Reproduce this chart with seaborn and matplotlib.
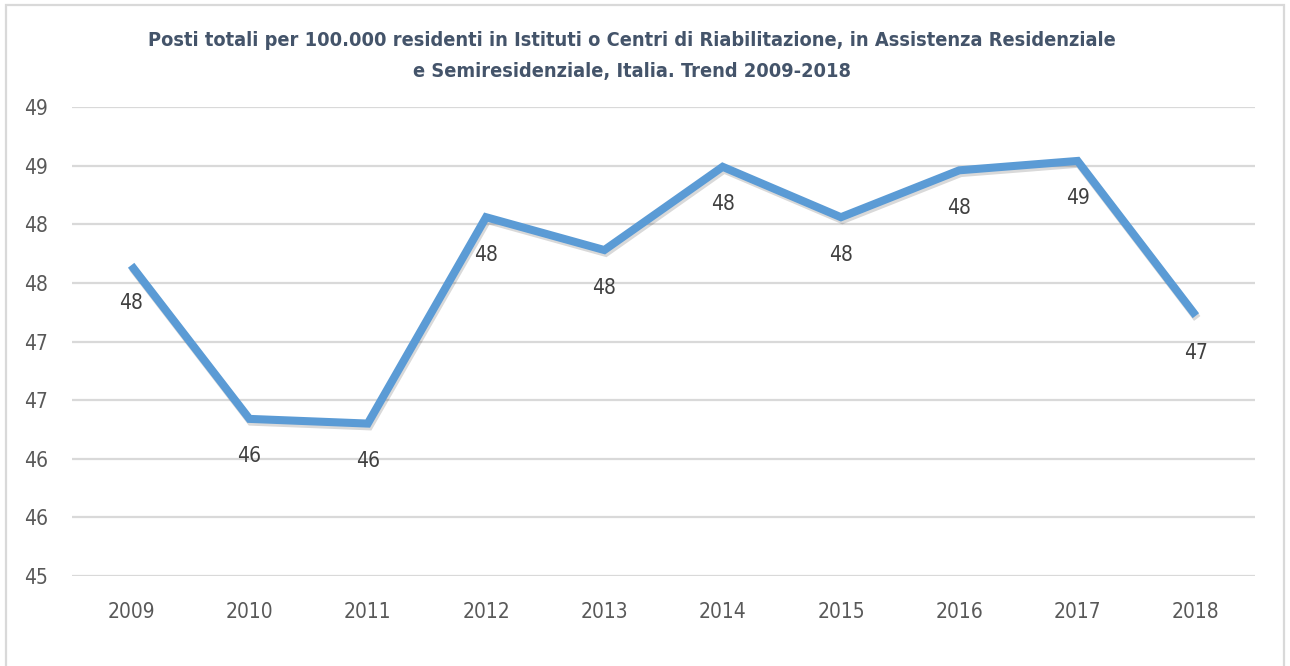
import math
import matplotlib
matplotlib.use("Agg")
import matplotlib.pyplot as plt
import matplotlib.patheffects as pe
from matplotlib.patches import Rectangle
import seaborn as sns
import pandas as pd

# ======================
# DATA
# ======================
years = [2009, 2010, 2011, 2012, 2013, 2014, 2015, 2016, 2017, 2018]
posti = [47.65, 46.34, 46.30, 48.06, 47.78, 48.49, 48.06, 48.46, 48.54, 47.22]
y_ticks = [45.0, 45.5, 46.0, 46.5, 47.0, 47.5, 48.0, 48.5, 49.0]

title = ("Posti totali per 100.000 residenti in Istituti o Centri di Riabilitazione, in Assistenza Residenziale\n"
         "e Semiresidenziale, Italia. Trend 2009-2018")

df = pd.DataFrame({"anno": years, "posti": posti})


def excel_round(v):
    return int(math.floor(v + 0.5))


# ======================
# STYLE
# ======================
sns.set_theme(style="white")
plt.rcParams["font.family"] = ["DejaVu Sans"]
plt.rcParams["font.stretch"] = "condensed"

LINE_COLOR = "#5B9BD5"
TEXT_COLOR = "#595959"
GRID_COLOR = "#D9D9D9"

fig = plt.figure(figsize=(12.9, 6.66), dpi=100)
ax = fig.add_axes([72 / 1290, 1 - 576 / 666, (1255 - 72) / 1290, (576 - 107) / 666])

# ======================
# LINE
# ======================
sns.lineplot(data=df, x="anno", y="posti", ax=ax, color=LINE_COLOR, linewidth=5.8,
             solid_joinstyle="miter", solid_capstyle="butt",
             path_effects=[pe.SimpleLineShadow(offset=(1.0, -2.0), alpha=0.15, shadow_color="black"),
                           pe.Normal()])

# data labels
for x, v in zip(years, posti):
    ax.annotate(str(excel_round(v)), (x, v), xytext=(0, -27), textcoords="offset points",
                ha="center", va="center", fontsize=15, color="#404040")

# ======================
# AXES
# ======================
ax.set_xlim(years[0] - 0.5, years[-1] + 0.5)
ax.set_ylim(y_ticks[0], y_ticks[-1])
ax.set_xticks(years)
ax.set_xticklabels([str(y) for y in years])
ax.set_yticks(y_ticks)
ax.set_yticklabels([str(excel_round(t)) for t in y_ticks])
ax.tick_params(axis="x", length=0, pad=19, labelsize=15, labelcolor=TEXT_COLOR)
ax.tick_params(axis="y", length=0, pad=17, labelsize=15, labelcolor=TEXT_COLOR)
ax.set_xlabel("")
ax.set_ylabel("")
ax.grid(axis="y", color=GRID_COLOR, linewidth=1.6)
ax.set_axisbelow(True)
for s in ax.spines.values():
    s.set_visible(False)

fig.text(632 / 1290, 1 - 56 / 666, title, ha="center", va="center", fontsize=14.3,
         fontweight="bold", color="#44546A", linespacing=1.84)

# chart frame
fig.patches.append(Rectangle((6 / 1290, -0.05), 1278 / 1290, 1.05 - 5 / 666,
                             transform=fig.transFigure, fill=False,
                             edgecolor=GRID_COLOR, linewidth=1.6))

fig.savefig("out.png", dpi=100)
